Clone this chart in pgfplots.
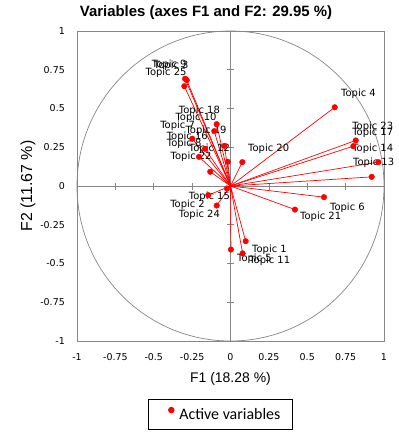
\documentclass[border=0pt]{standalone}
\usepackage{pgfplots}
\pgfplotsset{compat=1.18}
\usepackage{pgfplotstable}
\usepackage{fontspec}
\setmainfont{DejaVu Sans}
\newfontfamily\arialf{Liberation Sans}
\newfontfamily\calf{Carlito}
\newfontfamily\dvf{DejaVu Sans}
\definecolor{framegray}{RGB}{134,134,134}
\newcommand{\lbl}{\dvf\fontsize{10}{12}\selectfont}

% topic  F1  F2
\pgfplotstableread{
topic x y
9  -0.296 0.692
3  -0.285 0.683
25 -0.301 0.644
18 -0.090 0.399
10 -0.106 0.354
7  -0.249 0.305
19 -0.040 0.259
16 -0.166 0.240
8  -0.205 0.188
12 -0.018 0.156
22 -0.132 0.092
20 0.077 0.154
4  0.679 0.508
23 0.816 0.294
17 0.800 0.257
14 0.963 0.154
13 0.920 0.059
6  0.609 -0.072
21 0.420 -0.152
1  0.099 -0.356
11 0.079 -0.435
5  0.003 -0.410
15 -0.023 -0.016
2  -0.145 -0.059
24 -0.090 -0.126
}\topics

\begin{document}
\begin{tikzpicture}
\useasboundingbox (0bp,0bp) rectangle (399bp,-437bp);
\node[font=\arialf\bfseries\fontsize{15}{18}\selectfont] at (206bp,-13bp) {Variables (axes F1 and F2: 29.95 \%)};
\begin{axis}[
  at={(77bp,-341bp)}, anchor=south west,
  width=307bp, height=310bp, scale only axis,
  xmin=-1, xmax=1, ymin=-1, ymax=1,
  clip=false,
  axis line style={framegray, line width=0.8bp},
  major tick length=0pt,
  xtick={-1,-0.75,-0.5,-0.25,0,0.25,0.5,0.75,1},
  ytick={-1,-0.75,-0.5,-0.25,0,0.25,0.5,0.75,1},
  xticklabels={-1,-0.75,-0.5,-0.25,0,0.25,0.5,0.75,1},
  yticklabels={-1,-0.75,-0.5,-0.25,0,0.25,0.5,0.75,1},
  /pgf/number format/assume math mode=true,
  ticklabel style={font=\dvf\fontsize{9.5}{11}\selectfont, inner sep=0pt},
  xticklabel style={anchor=north, yshift=-12.5bp},
  yticklabel style={anchor=east, xshift=-12bp},
  xlabel={F1 (18.28 \%)},
  ylabel={F2 (11.67 \%)},
  xlabel style={font=\arialf\fontsize{14}{16}\selectfont, at={(axis description cs:0.5,-0.123)}, anchor=center},
  ylabel style={font=\arialf\fontsize{16}{18}\selectfont, at={(axis description cs:-0.16,0.5)}, anchor=center},
  legend style={at={(0.232,-0.187)}, anchor=north west, draw=black, line width=0.8bp,
    font=\calf\fontsize{16}{18}\selectfont, minimum height=30bp,
    inner xsep=0pt, inner ysep=0pt, nodes={inner sep=0pt}},
  legend image code/.code={\path[draw=none, fill=none] (0bp,0bp) -- (30.7bp,0bp);
    \fill[red] (22.7bp,4.3bp) circle (2.8bp);},
]
% unit circle and central axes
\draw[framegray, line width=0.7bp] (axis cs:0,0) ellipse [x radius=1, y radius=1];
\draw[framegray, line width=0.7bp] (axis cs:0,-1) -- (axis cs:0,1);
\draw[framegray, line width=0.7bp] (axis cs:-1,0) -- (axis cs:1,0);
\pgfplotsinvokeforeach{-0.75,-0.5,-0.25,0.25,0.5,0.75}{
  \draw[framegray, line width=0.7bp] ([xshift=-3.5bp]axis cs:0,#1) -- ([xshift=3.5bp]axis cs:0,#1);
  \draw[framegray, line width=0.7bp] ([yshift=-3.5bp]axis cs:#1,0) -- ([yshift=3.5bp]axis cs:#1,0);
}
% vectors
\addplot[red, line width=0.7bp, no marks, forget plot,
  quiver={u=\thisrow{x}, v=\thisrow{y}}] table[x expr=0, y expr=0] {\topics};
% points
\addplot[only marks, mark=*, mark size=2.8bp, red, mark options={draw=red, fill=red}]
  table[x=x, y=y] {\topics};
\addlegendentry{Active variables\kern11.6bp}
% labels
\begin{scope}[every node/.style={inner sep=0pt, font=\lbl}]
\node[anchor=east] at (axis cs:-0.285,0.784) {Topic 9};
\node[anchor=east] at (axis cs:-0.272,0.773) {Topic 3};
\node[anchor=east] at (axis cs:-0.285,0.730) {Topic 25};
\node[anchor=east] at (axis cs:-0.068,0.487) {Topic 18};
\node[anchor=east] at (axis cs:-0.090,0.440) {Topic 10};
\node[anchor=east] at (axis cs:-0.231,0.390) {Topic 7};
\node[anchor=east] at (axis cs:-0.025,0.354) {Topic 19};
\node[anchor=east] at (axis cs:-0.147,0.317) {Topic 16};
\node[anchor=east] at (axis cs:-0.188,0.274) {Topic 8};
\node[anchor=east] at (axis cs:-0.003,0.242) {Topic 12};
\node[anchor=east] at (axis cs:-0.122,0.186) {Topic 22};
\node[anchor=west] at (axis cs:0.114,0.242) {Topic 20};
\node[anchor=west] at (axis cs:0.720,0.597) {Topic 4};
\node[anchor=west] at (axis cs:0.792,0.384) {Topic 23};
\node[anchor=west] at (axis cs:0.792,0.345) {Topic 17};
\node[anchor=west] at (axis cs:0.792,0.242) {Topic 14};
\node[anchor=west] at (axis cs:0.798,0.152) {Topic 13};
\node[anchor=west] at (axis cs:0.648,-0.139) {Topic 6};
\node[anchor=west] at (axis cs:0.453,-0.201) {Topic 21};
\node[anchor=west] at (axis cs:0.140,-0.410) {Topic 1};
\node[anchor=west] at (axis cs:0.121,-0.485) {Topic 11};
\node[anchor=west] at (axis cs:0.042,-0.468) {Topic 5};
\node[anchor=east] at (axis cs:-0.003,-0.068) {Topic 15};
\node[anchor=east] at (axis cs:-0.166,-0.119) {Topic 2};
\node[anchor=east] at (axis cs:-0.068,-0.184) {Topic 24};
\end{scope}
\end{axis}
\end{tikzpicture}
\end{document}
